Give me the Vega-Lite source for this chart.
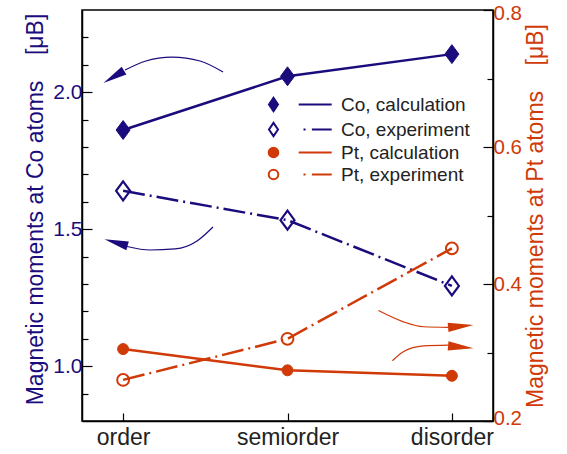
{
  "$schema": "https://vega.github.io/schema/vega-lite/v6.json",
  "width": 411,
  "height": 411,
  "autosize": {"type": "none"},
  "padding": {"left": 82, "top": 10, "right": 74, "bottom": 33},
  "config": {
    "font": "Liberation Sans",
    "view": {"stroke": "#000", "strokeWidth": 1.5}
  },
  "datasets": {
    "moments": [
      {"phase": "order", "element": "Co", "type": "calculation", "value": 1.862},
      {"phase": "semiorder", "element": "Co", "type": "calculation", "value": 2.058},
      {"phase": "disorder", "element": "Co", "type": "calculation", "value": 2.139},
      {"phase": "order", "element": "Co", "type": "experiment", "value": 1.64},
      {"phase": "semiorder", "element": "Co", "type": "experiment", "value": 1.533},
      {"phase": "disorder", "element": "Co", "type": "experiment", "value": 1.293},
      {"phase": "order", "element": "Pt", "type": "calculation", "value": 0.305},
      {"phase": "semiorder", "element": "Pt", "type": "calculation", "value": 0.274},
      {"phase": "disorder", "element": "Pt", "type": "calculation", "value": 0.266},
      {"phase": "order", "element": "Pt", "type": "experiment", "value": 0.26},
      {"phase": "semiorder", "element": "Pt", "type": "experiment", "value": 0.32},
      {"phase": "disorder", "element": "Pt", "type": "experiment", "value": 0.452}
    ],
    "arrows": [
      {"arrow": "Co upper", "element": "Co", "x": 0.012, "y": 2.081},
      {"arrow": "Co upper", "element": "Co", "x": 0.134, "y": 2.113},
      {"arrow": "Co upper", "element": "Co", "x": 0.298, "y": 2.128},
      {"arrow": "Co upper", "element": "Co", "x": 0.468, "y": 2.114},
      {"arrow": "Co upper", "element": "Co", "x": 0.608, "y": 2.074},
      {"arrow": "Co lower", "element": "Co", "x": 0.024, "y": 1.437},
      {"arrow": "Co lower", "element": "Co", "x": 0.164, "y": 1.424},
      {"arrow": "Co lower", "element": "Co", "x": 0.316, "y": 1.428},
      {"arrow": "Co lower", "element": "Co", "x": 0.45, "y": 1.457},
      {"arrow": "Co lower", "element": "Co", "x": 0.547, "y": 1.508},
      {"arrow": "Pt upper", "element": "Pt", "x": 1.553, "y": 1.203},
      {"arrow": "Pt upper", "element": "Pt", "x": 1.705, "y": 1.162},
      {"arrow": "Pt upper", "element": "Pt", "x": 1.827, "y": 1.144},
      {"arrow": "Pt upper", "element": "Pt", "x": 1.979, "y": 1.142},
      {"arrow": "Pt lower", "element": "Pt", "x": 1.638, "y": 1.02},
      {"arrow": "Pt lower", "element": "Pt", "x": 1.705, "y": 1.053},
      {"arrow": "Pt lower", "element": "Pt", "x": 1.827, "y": 1.074},
      {"arrow": "Pt lower", "element": "Pt", "x": 1.979, "y": 1.077}
    ],
    "heads": [
      {"arrow": "Co upper", "element": "Co", "x": -0.057, "y": 2.056, "angle": -31},
      {"arrow": "Co lower", "element": "Co", "x": -0.043, "y": 1.451, "angle": 16},
      {"arrow": "Pt upper", "element": "Pt", "x": 2.054, "y": 1.146, "angle": 175},
      {"arrow": "Pt lower", "element": "Pt", "x": 2.054, "y": 1.07, "angle": 185}
    ]
  },
  "layer": [
    {
      "data": {"name": "moments"},
      "transform": [{"filter": "datum.element === 'Co'"}],
      "encoding": {
        "x": {
          "field": "phase", "type": "nominal",
          "scale": {"type": "point", "domain": ["order", "semiorder", "disorder"], "padding": 0.25},
          "axis": {
            "orient": "bottom", "title": null, "labelAngle": 0, "labelFontSize": 23, "labelColor": "#222",
            "labelBaseline": "top", "labelPadding": 13, "tickSize": -8, "tickColor": "#000", "tickWidth": 1.2,
            "domainColor": "#000", "domainWidth": 1.5, "grid": false
          }
        },
        "y": {
          "field": "value", "type": "quantitative",
          "scale": {"domain": [0.8, 2.3], "nice": false, "zero": false},
          "axis": {
            "orient": "left",
            "values": [0.9, 1.0, 1.1, 1.2, 1.3, 1.4, 1.5, 1.6, 1.7, 1.8, 1.9, 2.0, 2.1, 2.2],
            "labelExpr": "abs(datum.value*2-round(datum.value*2))<0.01 ? format(datum.value,'.1f') : ''",
            "tickSize": {"condition": {"test": "abs(datum.value*2-round(datum.value*2))<0.01", "value": -10}, "value": -6},
            "tickColor": "#000", "tickWidth": 1.2, "domainColor": "#000", "domainWidth": 1.5, "grid": false,
            "labelFontSize": 21, "labelColor": "#1a0c7c", "labelPadding": 10,
            "title": "Magnetic moments at Co atoms\u00a0\u00a0\u00a0\u00a0[μB]",
            "titleFontSize": 23, "titleFontWeight": "normal", "titleColor": "#1a0c7c", "titlePadding": 5,
            "titleY": 199
          }
        },
        "order": {"value": null}
      },
      "layer": [
        {"transform": [{"filter": "datum.type === 'calculation'"}], "mark": {"type": "line", "color": "#1a0c7c", "strokeWidth": 2.5}},
        {"transform": [{"filter": "datum.type === 'experiment'"}], "mark": {"type": "line", "color": "#1a0c7c", "strokeWidth": 2.5, "strokeDash": [22, 5, 2, 5]}},
        {"transform": [{"filter": "datum.type === 'calculation'"}], "mark": {"type": "point", "shape": "M0,-1.35L1,0L0,1.35L-1,0Z", "size": 196, "filled": true, "fill": "#1a0c7c", "stroke": "#1a0c7c", "strokeWidth": 1, "opacity": 1}},
        {"transform": [{"filter": "datum.type === 'experiment'"}], "mark": {"type": "point", "shape": "M0,-1.35L1,0L0,1.35L-1,0Z", "size": 196, "filled": false, "stroke": "#1a0c7c", "strokeWidth": 2.2, "opacity": 1}}
      ]
    },
    {
      "data": {"name": "moments"},
      "transform": [{"filter": "datum.element === 'Pt'"}],
      "encoding": {
        "x": {
          "field": "phase", "type": "nominal",
          "scale": {"type": "point", "domain": ["order", "semiorder", "disorder"], "padding": 0.25},
          "axis": null
        },
        "y": {
          "field": "value", "type": "quantitative",
          "scale": {"domain": [0.2, 0.8], "nice": false, "zero": false},
          "axis": {
            "orient": "right",
            "values": [0.2, 0.3, 0.4, 0.5, 0.6, 0.7, 0.8],
            "labelExpr": "abs(datum.value*5-round(datum.value*5))<0.01 ? format(datum.value,'.1f') : ''",
            "tickSize": {"condition": {"test": "abs(datum.value*5-round(datum.value*5))<0.01", "value": -10}, "value": -6},
            "tickColor": "#000", "tickWidth": 1.2, "domainColor": "#000", "domainWidth": 1.5, "grid": false,
            "labelFontSize": 20.5, "labelColor": "#d03a08", "labelPadding": 10,
            "labelFlush": true, "labelFlushOffset": 7,
            "title": "Magnetic moments at Pt atoms\u00a0\u00a0\u00a0\u00a0[μB]",
            "titleFontSize": 23, "titleFontWeight": "normal", "titleColor": "#d03a08", "titlePadding": 3,
            "titleAngle": 270, "titleBaseline": "top"
          }
        },
        "order": {"value": null}
      },
      "layer": [
        {"transform": [{"filter": "datum.type === 'calculation'"}], "mark": {"type": "line", "color": "#d03a08", "strokeWidth": 2.5}},
        {"transform": [{"filter": "datum.type === 'experiment'"}], "mark": {"type": "line", "color": "#d03a08", "strokeWidth": 2.5, "strokeDash": [22, 5, 2, 5]}},
        {"transform": [{"filter": "datum.type === 'calculation'"}], "mark": {"type": "point", "shape": "circle", "size": 120, "filled": true, "fill": "#d03a08", "stroke": "#d03a08", "strokeWidth": 1, "opacity": 1}},
        {"transform": [{"filter": "datum.type === 'experiment'"}], "mark": {"type": "point", "shape": "circle", "size": 140, "filled": false, "stroke": "#d03a08", "strokeWidth": 2, "opacity": 1}}
      ]
    },
    {
      "encoding": {
        "x": {"field": "x", "type": "quantitative", "scale": {"domain": [-0.25, 2.25], "nice": false, "zero": false}, "axis": null},
        "y": {"field": "y", "type": "quantitative", "scale": {"domain": [0.8, 2.3], "nice": false, "zero": false}, "axis": null}
      },
      "layer": [
        {"data": {"name": "arrows"}, "transform": [{"filter": "datum.element === 'Co'"}], "mark": {"type": "line", "interpolate": "monotone", "color": "#1a0c7c", "strokeWidth": 1.2}, "encoding": {"detail": {"field": "arrow"}}},
        {"data": {"name": "arrows"}, "transform": [{"filter": "datum.element === 'Pt'"}], "mark": {"type": "line", "interpolate": "monotone", "color": "#d03a08", "strokeWidth": 1.2}, "encoding": {"detail": {"field": "arrow"}}},
        {"data": {"name": "heads"}, "transform": [{"filter": "datum.element === 'Co'"}], "mark": {"type": "point", "shape": "M-1,0L1,-0.38L1,0.38Z", "size": 576, "filled": true, "fill": "#1a0c7c", "strokeWidth": 0, "opacity": 1}, "encoding": {"angle": {"field": "angle", "type": "quantitative", "scale": null}}},
        {"data": {"name": "heads"}, "transform": [{"filter": "datum.element === 'Pt'"}], "mark": {"type": "point", "shape": "M-1,0L1,-0.36L1,0.36Z", "size": 650, "filled": true, "fill": "#d03a08", "strokeWidth": 0, "opacity": 1}, "encoding": {"angle": {"field": "angle", "type": "quantitative", "scale": null}}}
      ]
    },
    {
      "data": {"values": [
        {"series": "Co, calculation"},
        {"series": "Co, experiment"},
        {"series": "Pt, calculation"},
        {"series": "Pt, experiment"}
      ]},
      "transform": [{"filter": "false"}],
      "mark": {"type": "point", "size": 144, "strokeWidth": 2, "opacity": 1},
      "encoding": {
        "shape": {
          "field": "series", "type": "nominal",
          "scale": {
            "domain": ["Co, calculation", "Co, experiment", "Pt, calculation", "Pt, experiment"],
            "range": [
              "M0,-1.1L0.75,0L0,1.1L-0.75,0Z M4.2,0L9.7,0",
              "M0,-1.1L0.75,0L0,1.1L-0.75,0Z M5,0L5.35,0 M6.4,0L9.7,0",
              "M-0.8,0A0.8,0.8,0,1,1,0.8,0A0.8,0.8,0,1,1,-0.8,0Z M4.2,0L9.7,0",
              "M-0.8,0A0.8,0.8,0,1,1,0.8,0A0.8,0.8,0,1,1,-0.8,0Z M5,0L5.35,0 M6.4,0L9.7,0"
            ]
          },
          "legend": {
            "orient": "none", "legendX": 182, "legendY": 85, "title": null, "padding": 0,
            "rowPadding": 2, "symbolSize": 144, "symbolStrokeWidth": 2, "labelOffset": 58,
            "labelFontSize": 19, "labelColor": "#222", "symbolOpacity": 1
          }
        },
        "fill": {
          "field": "series", "type": "nominal",
          "scale": {"domain": ["Co, calculation", "Co, experiment", "Pt, calculation", "Pt, experiment"], "range": ["#1a0c7c", "#ffffff", "#d03a08", "#ffffff"]}
        },
        "stroke": {
          "field": "series", "type": "nominal",
          "scale": {"domain": ["Co, calculation", "Co, experiment", "Pt, calculation", "Pt, experiment"], "range": ["#1a0c7c", "#1a0c7c", "#d03a08", "#d03a08"]}
        }
      }
    }
  ],
  "resolve": {"scale": {"x": "independent", "y": "independent"}}
}
